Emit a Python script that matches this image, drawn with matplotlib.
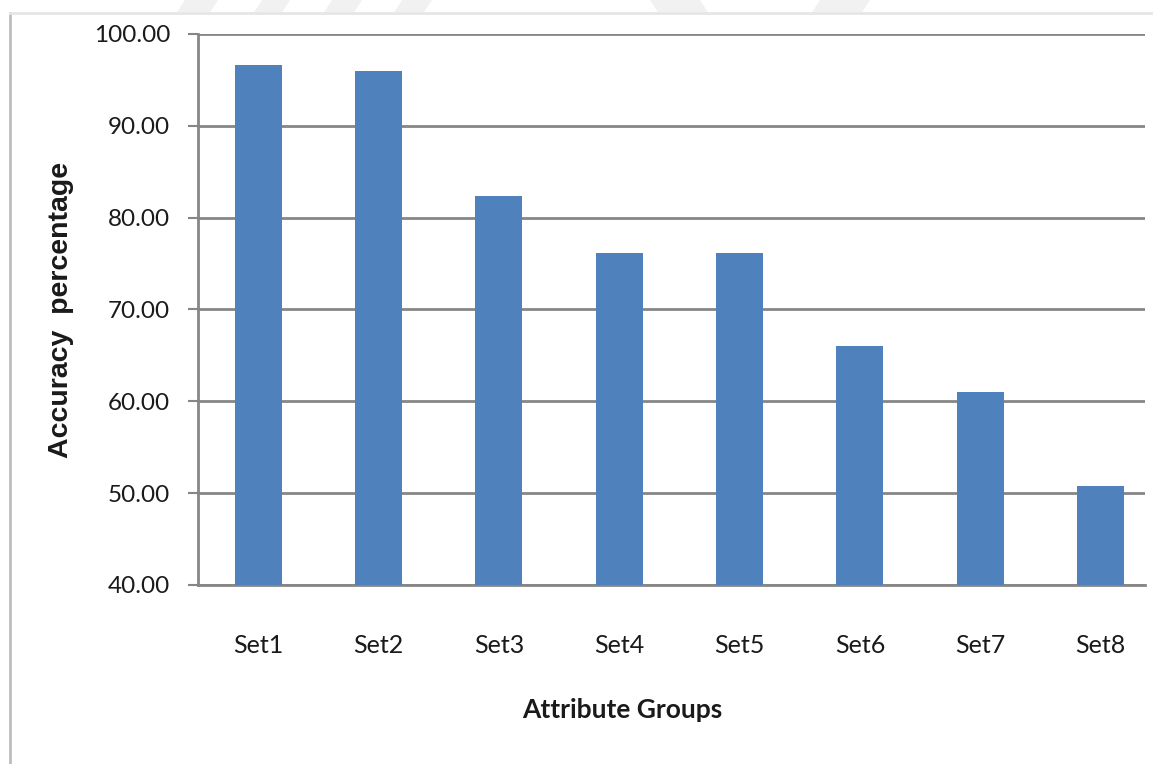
"""Accuracy per attribute group, bar chart."""

import matplotlib.pyplot as plt
from matplotlib.lines import Line2D
from matplotlib.patches import Polygon

groups = ["Set1", "Set2", "Set3", "Set4", "Set5", "Set6", "Set7", "Set8"]
accuracy = [96.6, 96.0, 82.4, 76.2, 76.2, 66.0, 61.0, 50.8]
yticks = [40, 50, 60, 70, 80, 90, 100]

BAR = "#4F81BD"
GRID = "#868686"
TEXT = "#1a1a1a"

fig = plt.figure(figsize=(11.53, 7.64), dpi=100)
ax = fig.add_axes([0.1717, 0.2343, 0.8214, 0.7212])

x = range(len(groups))
ax.bar(x, accuracy, width=0.39, color=BAR, zorder=3)

ax.set_ylim(40, 100)
ax.set_xlim(-0.5, 7.37)
ax.set_yticks(yticks)
ax.set_yticklabels([f"{v:.2f}" for v in yticks], fontsize=17.5, family="Lato", color=TEXT)
ax.set_xticks(list(x))
ax.set_xticklabels(groups, fontsize=18, family="Lato", color=TEXT)
ax.yaxis.grid(True, color=GRID, linewidth=2, zorder=0)
ax.tick_params(axis="y", length=7, width=1.5, color=GRID, pad=13)
ax.tick_params(axis="x", length=0, pad=35)

for side in ("top", "right"):
    ax.spines[side].set_visible(False)
for side in ("left", "bottom"):
    ax.spines[side].set_color(GRID)
    ax.spines[side].set_linewidth(2)

fig.text(0.0525, 0.594, "Accuracy  percentage", rotation=90, ha="center",
         va="center", fontsize=20.5, fontweight="bold", family="Liberation Sans",
         color=TEXT)
fig.text(0.5395, 0.071, "Attribute Groups", ha="center", va="center",
         fontsize=19, fontweight="bold", family="Lato", color=TEXT)

# chart frame (left and top edges) plus faint header band
fig.add_artist(Line2D([0.0085, 0.0085], [0, 0.983], color="#bdbdbd", linewidth=2,
                      transform=fig.transFigure))
fig.add_artist(Line2D([0.0085, 1], [0.983, 0.983], color="#e6e6e6", linewidth=2,
                      transform=fig.transFigure))
for x0, x1, d in [(185, 218, -8), (262, 290, -8), (332, 362, -8), (402, 432, -8),
                  (650, 700, 8), (820, 870, -8)]:
    pts = [(x0 / 1153, 1), (x1 / 1153, 1), ((x1 + d) / 1153, 0.984), ((x0 + d) / 1153, 0.984)]
    fig.add_artist(Polygon(pts, closed=True, facecolor="#f1f1f1", edgecolor="none",
                           transform=fig.transFigure))

fig.savefig("out.png", dpi=100)
